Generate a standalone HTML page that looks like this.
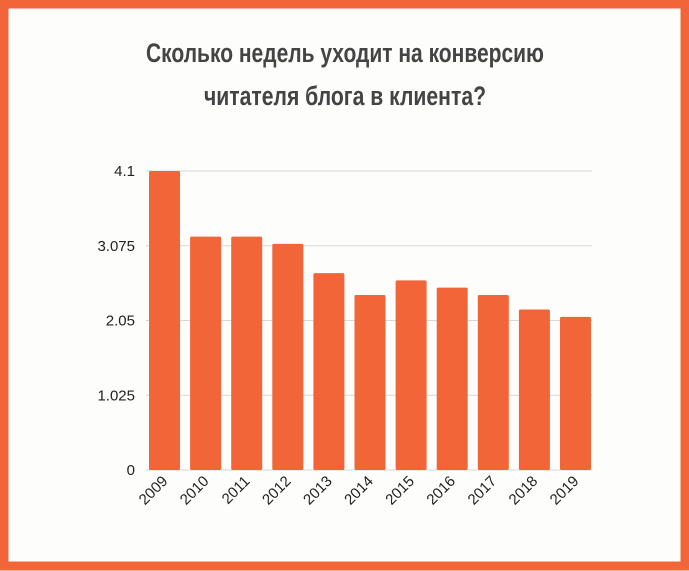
<!DOCTYPE html>
<html><head><meta charset="utf-8"><style>
html,body{margin:0;padding:0;background:#fdfdfb;}
svg{display:block;}
</style></head><body>
<svg width="689" height="571" viewBox="0 0 689 571" xmlns="http://www.w3.org/2000/svg">
<rect x="4" y="4" width="681" height="562" fill="#fdfdfb" stroke="#f26539" stroke-width="9"/>
<text x="345" y="62" text-anchor="middle" font-family="'Liberation Sans Narrow','Liberation Sans',sans-serif" font-weight="bold" font-size="27" fill="#444" textLength="398" lengthAdjust="spacingAndGlyphs">Сколько недель уходит на конверсию</text>
<text x="345" y="105" text-anchor="middle" font-family="'Liberation Sans Narrow','Liberation Sans',sans-serif" font-weight="bold" font-size="27" fill="#444" textLength="282" lengthAdjust="spacingAndGlyphs">читателя блога в клиента?</text>
<g id="grid"></g><g id="bars"></g><g id="labels"></g>
</svg>
<script>
const categories=["2009","2010","2011","2012","2013","2014","2015","2016","2017","2018","2019"];
const values=[4.1,3.2,3.2,3.1,2.7,2.4,2.6,2.5,2.4,2.2,2.1];
const ticks=[0,1.025,2.05,3.075,4.1];
const tickLabels=["0","1.025","2.05","3.075","4.1"];
const NS="http://www.w3.org/2000/svg";
const y0=470,yTop=171,maxV=4.1,x0=149,pitch=41.1,bw=31;
function y(v){return y0-(v/maxV)*(y0-yTop);}
function x(i){return x0+i*pitch;}
const grid=document.getElementById('grid'),bars=document.getElementById('bars'),labels=document.getElementById('labels');
ticks.forEach((t,i)=>{
  const l=document.createElementNS(NS,'line');
  
  
  l.setAttribute('x1',146);l.setAttribute('x2',592);l.setAttribute('y1',y(t));l.setAttribute('y2',y(t));
  l.setAttribute('stroke','#d8d8d8');l.setAttribute('stroke-width','1');
  grid.appendChild(l);
  const tx=document.createElementNS(NS,'text');
  
  
  tx.setAttribute('x',135);tx.setAttribute('y',y(t)+5);tx.setAttribute('text-anchor','end');
  tx.setAttribute('font-family','Liberation Sans, sans-serif');tx.setAttribute('font-size','15');tx.setAttribute('fill','#222');
  tx.textContent=tickLabels[i];
  labels.appendChild(tx);
});
categories.forEach((c,i)=>{
  const r=document.createElementNS(NS,'rect');
  
  
  r.setAttribute('x',x(i));r.setAttribute('y',y(values[i]));r.setAttribute('width',bw);r.setAttribute('height',y0-y(values[i]));
  r.setAttribute('fill','#f26539');r.setAttribute('rx','1.5');
  bars.appendChild(r);
  const tx=document.createElementNS(NS,'text');
  
  
  const cx=x(i)+bw/2+4,cy=482;
  tx.setAttribute('x',cx);tx.setAttribute('y',cy);tx.setAttribute('text-anchor','end');
  tx.setAttribute('transform','rotate(-45 '+cx+' '+cy+')');
  tx.setAttribute('font-family','Liberation Sans, sans-serif');tx.setAttribute('font-size','15');tx.setAttribute('fill','#222');
  tx.textContent=c;
  labels.appendChild(tx);
});
</script>
</body></html>
